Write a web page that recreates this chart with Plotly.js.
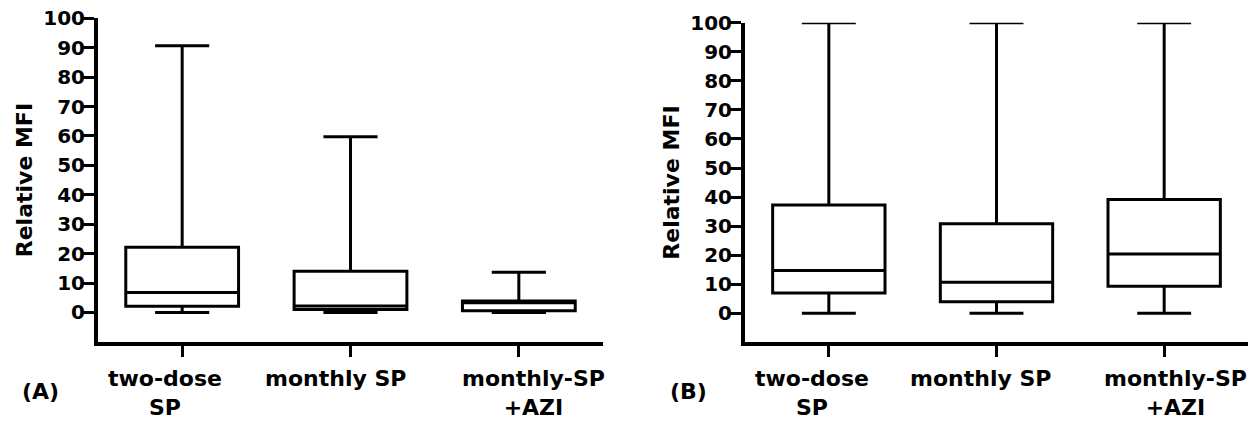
<!DOCTYPE html>
<html>
<head>
<meta charset="utf-8">
<script src="https://cdn.plot.ly/plotly-3.0.1.min.js"></script>
<style>html,body{margin:0;padding:0;background:#fff;}#chart{width:1250px;height:421px;}</style>
</head>
<body>
<div id="chart"></div>
<script>
// ---- data ----
const categories = ["two-dose<br>SP", "monthly SP", "monthly-SP<br>+AZI"];
const panelLabels = ["(A)", "(B)"];
const yTitle = "Relative MFI";
const yTickVals = [0, 10, 20, 30, 40, 50, 60, 70, 80, 90, 100];

// Panel A
const aMin    = [0, 0, 0];
const aQ1     = [2.1, 1.0, 0.6];
const aMedian = [6.8, 2.2, 3.3];
const aQ3     = [22.2, 14.0, 3.9];
const aMax    = [90.7, 59.7, 13.7];

// Panel B
const bMin    = [0, 0, 0];
const bQ1     = [7.0, 4.0, 9.3];
const bMedian = [14.7, 10.7, 20.4];
const bQ3     = [37.3, 30.8, 39.2];
const bMax    = [100, 100, 100];

// ---- layout helpers ----
const xIdx = categories.map((c, i) => i);
const FONT = "DejaVu Sans, Arial, sans-serif";

function boxTrace(q1, med, q3, lo, hi, xa, ya) {
  return {
    type: "box",
    x: xIdx, q1: q1, median: med, q3: q3, lowerfence: lo, upperfence: hi,
    xaxis: xa, yaxis: ya,
    width: 0.67, whiskerwidth: 0.48,
    fillcolor: "rgba(255,255,255,0)",
    line: { color: "#000", width: 3 },
    boxpoints: false, showlegend: false, hoverinfo: "skip"
  };
}

const traces = [
  boxTrace(aQ1, aMedian, aQ3, aMin, aMax, "x", "y"),
  boxTrace(bQ1, bMedian, bQ3, bMin, bMax, "x2", "y2")
];

function yAxis(domain, anchor) {
  return {
    domain: domain, anchor: anchor, range: [-10, 100],
    tickvals: yTickVals, ticks: "outside", ticklen: 11, tickwidth: 3, tickcolor: "#000",
    ticklabelstandoff: -6,
    showline: true, linewidth: 4, linecolor: "#000",
    showgrid: false, zeroline: false, automargin: false,
    tickfont: { family: FONT, size: 20, color: "#000", weight: "bold" },
    title: { text: yTitle, standoff: 6, font: { family: FONT, size: 22, color: "#000", weight: "bold" } }
  };
}
function xAxis(domain, anchor) {
  return {
    domain: domain, anchor: anchor, range: [-0.5, 2.5],
    tickvals: xIdx, ticktext: xIdx.map(() => ""), ticks: "outside", ticklen: 11, tickwidth: 3, tickcolor: "#000",
    showline: true, linewidth: 4, linecolor: "#000",
    showgrid: false, zeroline: false, automargin: false, fixedrange: true
  };
}

const offsA = [-17, -15, 15];
const offsB = [-17, -16, 11];
const annotations = [];
categories.forEach((c, i) => {
  annotations.push({ xref: "x", yref: "paper", x: i, y: 1 - 364 / 421, yanchor: "top", xanchor: "center",
    xshift: offsA[i], text: c, showarrow: false, align: "center",
    font: { family: FONT, size: 22, color: "#000", weight: "bold" } });
  annotations.push({ xref: "x2", yref: "paper", x: i, y: 1 - 364 / 421, yanchor: "top", xanchor: "center",
    xshift: offsB[i], text: c, showarrow: false, align: "center",
    font: { family: FONT, size: 22, color: "#000", weight: "bold" } });
});
annotations.push({ xref: "paper", yref: "paper", x: 40 / 1250, y: 1 - 391 / 421, xanchor: "center", yanchor: "middle",
  text: panelLabels[0], showarrow: false, font: { family: FONT, size: 22, color: "#000", weight: "bold" } });
annotations.push({ xref: "paper", yref: "paper", x: 688 / 1250, y: 1 - 391 / 421, xanchor: "center", yanchor: "middle",
  text: panelLabels[1], showarrow: false, font: { family: FONT, size: 22, color: "#000", weight: "bold" } });

const layout = {
  width: 1250, height: 421,
  margin: { l: 0, r: 0, t: 0, b: 0 },
  paper_bgcolor: "#fff", plot_bgcolor: "rgba(0,0,0,0)",
  showlegend: false,
  xaxis: xAxis([98 / 1250, 603 / 1250], "y"),
  yaxis: yAxis([1 - 341.9 / 421, 1 - 18.3 / 421], "x"),
  xaxis2: xAxis([745 / 1250, 1248 / 1250], "y2"),
  yaxis2: yAxis([1 - 342.4 / 421, 1 - 22.7 / 421], "x2"),
  annotations: annotations
};

Plotly.newPlot("chart", traces, layout, { staticPlot: true, displayModeBar: false });
</script>
</body>
</html>
